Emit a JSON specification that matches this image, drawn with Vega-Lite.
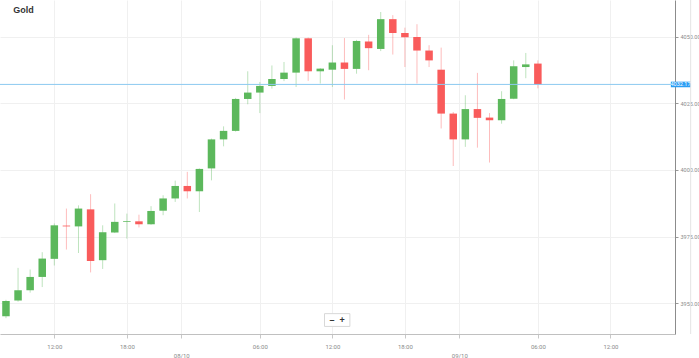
{
  "$schema": "https://vega.github.io/schema/vega-lite/v6.json",
  "autosize": "none",
  "width": 675,
  "height": 334,
  "padding": {"left": 0, "top": 0, "right": 24, "bottom": 24},
  "background": "white",
  "config": {
    "view": {"stroke": null},
    "font": "Roboto",
    "axisX": {"labelFontSize": 6, "labelColor": "#8a8a8a", "labelPadding": 5, "labelLineHeight": 9, "labelOverlap": false, "labelFlush": false, "tickSize": 4, "tickColor": "#c8c8c8", "domainColor": "#c0c0c0", "domainWidth": 1.2, "grid": true, "gridColor": "#f0f0f0", "gridWidth": 1},
    "axisY": {"labelFontSize": 5.5, "labelColor": "#8a8a8a", "labelPadding": 2, "tickSize": 3, "tickColor": "#999999", "domainColor": "#8c8c8c", "grid": true, "gridColor": "#f0f0f0", "gridWidth": 1}
  },
  "data": {"values": [
    {"i": 0, "o": 3945.0, "h": 3951.2, "l": 3944.3, "c": 3950.75},
    {"i": 1, "o": 3950.9, "h": 3963.2, "l": 3950.5, "c": 3954.8},
    {"i": 2, "o": 3954.8, "h": 3962.6, "l": 3953.9, "c": 3959.8},
    {"i": 3, "o": 3959.8, "h": 3969.1, "l": 3956.0, "c": 3966.7},
    {"i": 4, "o": 3966.6, "h": 3979.9, "l": 3964.1, "c": 3979.2},
    {"i": 5, "o": 3979.1, "h": 3985.5, "l": 3970.1, "c": 3978.8},
    {"i": 6, "o": 3978.8, "h": 3986.7, "l": 3968.8, "c": 3985.5},
    {"i": 7, "o": 3985.2, "h": 3990.9, "l": 3961.5, "c": 3965.8},
    {"i": 8, "o": 3966.1, "h": 3979.2, "l": 3962.8, "c": 3976.6},
    {"i": 9, "o": 3976.5, "h": 3987.4, "l": 3976.3, "c": 3980.5},
    {"i": 10, "o": 3980.5, "h": 3983.6, "l": 3974.2, "c": 3980.8},
    {"i": 11, "o": 3980.7, "h": 3983.2, "l": 3978.4, "c": 3979.6},
    {"i": 12, "o": 3979.6, "h": 3986.4, "l": 3979.4, "c": 3984.6},
    {"i": 13, "o": 3984.7, "h": 3990.5, "l": 3983.0, "c": 3989.3},
    {"i": 14, "o": 3989.3, "h": 3996.0, "l": 3988.0, "c": 3994.0},
    {"i": 15, "o": 3994.0, "h": 3999.3, "l": 3989.3, "c": 3992.0},
    {"i": 16, "o": 3992.0, "h": 4000.6, "l": 3984.2, "c": 4000.4},
    {"i": 17, "o": 4000.6, "h": 4011.8, "l": 3996.1, "c": 4011.5},
    {"i": 18, "o": 4011.5, "h": 4016.4, "l": 4008.9, "c": 4014.7},
    {"i": 19, "o": 4014.7, "h": 4027.1, "l": 4014.4, "c": 4026.7},
    {"i": 20, "o": 4026.7, "h": 4037.1, "l": 4024.7, "c": 4029.1},
    {"i": 21, "o": 4029.1, "h": 4033.1, "l": 4021.4, "c": 4031.6},
    {"i": 22, "o": 4031.6, "h": 4039.3, "l": 4030.6, "c": 4034.2},
    {"i": 23, "o": 4034.2, "h": 4040.6, "l": 4033.4, "c": 4036.6},
    {"i": 24, "o": 4036.6, "h": 4049.8, "l": 4031.2, "c": 4049.5},
    {"i": 25, "o": 4049.5, "h": 4049.8, "l": 4033.5, "c": 4037.1},
    {"i": 26, "o": 4037.1, "h": 4038.3, "l": 4032.5, "c": 4038.1},
    {"i": 27, "o": 4037.7, "h": 4046.9, "l": 4031.2, "c": 4040.4},
    {"i": 28, "o": 4040.4, "h": 4049.6, "l": 4026.5, "c": 4038.0},
    {"i": 29, "o": 4038.0, "h": 4048.9, "l": 4036.2, "c": 4048.5},
    {"i": 30, "o": 4048.3, "h": 4050.8, "l": 4037.5, "c": 4045.8},
    {"i": 31, "o": 4045.5, "h": 4059.4, "l": 4044.7, "c": 4056.7},
    {"i": 32, "o": 4056.7, "h": 4058.2, "l": 4043.4, "c": 4051.5},
    {"i": 33, "o": 4051.5, "h": 4053.5, "l": 4038.7, "c": 4049.9},
    {"i": 34, "o": 4050.0, "h": 4054.8, "l": 4032.5, "c": 4044.9},
    {"i": 35, "o": 4044.9, "h": 4046.9, "l": 4038.7, "c": 4041.2},
    {"i": 36, "o": 4037.7, "h": 4046.0, "l": 4015.6, "c": 4021.2},
    {"i": 37, "o": 4021.2, "h": 4021.8, "l": 4001.5, "c": 4011.5},
    {"i": 38, "o": 4011.5, "h": 4028.1, "l": 4008.7, "c": 4022.9},
    {"i": 39, "o": 4022.9, "h": 4036.5, "l": 4008.4, "c": 4019.6},
    {"i": 40, "o": 4019.7, "h": 4021.4, "l": 4002.8, "c": 4018.7},
    {"i": 41, "o": 4018.7, "h": 4029.6, "l": 4017.4, "c": 4026.7},
    {"i": 42, "o": 4026.8, "h": 4041.2, "l": 4026.6, "c": 4039.0},
    {"i": 43, "o": 4038.7, "h": 4044.0, "l": 4034.5, "c": 4039.7},
    {"i": 44, "o": 4040.0, "h": 4041.2, "l": 4030.7, "c": 4032.17}
  ]},
  "layer": [
    {
      "mark": {"type": "rule", "strokeWidth": 1, "opacity": 0.4, "clip": true},
      "encoding": {
        "x": {"field": "i", "type": "quantitative",
          "scale": {"domain": [-0.08, 54.93], "nice": false, "zero": false},
          "axis": {"title": null, "values": [4, 10, 14.5, 21, 27, 33, 37.5, 44, 50],
            "labelExpr": "datum.value == 4 || datum.value == 27 || datum.value == 50 ? '12:00' : (datum.value == 10 || datum.value == 33 ? '18:00' : (datum.value == 21 || datum.value == 44 ? '06:00' : (datum.value == 14.5 ? ['', '08/10'] : ['', '09/10'])))"}},
        "y": {"field": "l", "type": "quantitative",
          "scale": {"domain": [3938.35, 4063.9], "nice": false, "zero": false},
          "axis": {"title": null, "orient": "right", "values": [3950, 3975, 4000, 4025, 4050], "format": ".2f"}},
        "y2": {"field": "h"},
        "color": {"condition": {"test": "datum.c >= datum.o", "value": "#5cb85c"}, "value": "#f95b5b"}
      }
    },
    {
      "mark": {"type": "bar", "size": 7.5, "clip": true},
      "encoding": {
        "x": {"field": "i", "type": "quantitative",
          "axis": {"title": null, "values": [4, 10, 14.5, 21, 27, 33, 37.5, 44, 50],
            "labelExpr": "datum.value == 4 || datum.value == 27 || datum.value == 50 ? '12:00' : (datum.value == 10 || datum.value == 33 ? '18:00' : (datum.value == 21 || datum.value == 44 ? '06:00' : (datum.value == 14.5 ? ['', '08/10'] : ['', '09/10'])))"}},
        "y": {"field": "o", "type": "quantitative",
          "axis": {"title": null, "orient": "right", "values": [3950, 3975, 4000, 4025, 4050], "format": ".2f"}},
        "y2": {"field": "c"},
        "color": {"condition": {"test": "datum.c >= datum.o", "value": "#5cb85c"}, "value": "#f95b5b"}
      }
    },
    {
      "data": {"values": [{}]},
      "mark": {"type": "rule", "strokeWidth": 1, "color": "#8ccaf0"},
      "encoding": {
        "y": {"datum": 4032.17, "type": "quantitative",
          "axis": {"title": null, "orient": "right", "values": [3950, 3975, 4000, 4025, 4050], "format": ".2f"}}
      }
    },
    {
      "data": {"values": [{}]},
      "mark": {"type": "rule", "strokeWidth": 1, "color": "#e4e4e4", "clip": false},
      "encoding": {
        "x": {"datum": 56.64, "type": "quantitative",
          "axis": {"title": null, "values": [4, 10, 14.5, 21, 27, 33, 37.5, 44, 50],
            "labelExpr": "datum.value == 4 || datum.value == 27 || datum.value == 50 ? '12:00' : (datum.value == 10 || datum.value == 33 ? '18:00' : (datum.value == 21 || datum.value == 44 ? '06:00' : (datum.value == 14.5 ? ['', '08/10'] : ['', '09/10'])))"}}
      }
    },
    {
      "data": {"values": [{}]},
      "mark": {"type": "rect", "fill": "#2a9df4", "clip": false},
      "encoding": {
        "x": {"datum": 55.0, "type": "quantitative",
          "axis": {"title": null, "values": [4, 10, 14.5, 21, 27, 33, 37.5, 44, 50],
            "labelExpr": "datum.value == 4 || datum.value == 27 || datum.value == 50 ? '12:00' : (datum.value == 10 || datum.value == 33 ? '18:00' : (datum.value == 21 || datum.value == 44 ? '06:00' : (datum.value == 14.5 ? ['', '08/10'] : ['', '09/10'])))"}},
        "x2": {"datum": 56.6},
        "y": {"datum": 4031.1, "type": "quantitative",
          "axis": {"title": null, "orient": "right", "values": [3950, 3975, 4000, 4025, 4050], "format": ".2f"}},
        "y2": {"datum": 4033.2}
      }
    },
    {
      "data": {"values": [{}]},
      "mark": {"type": "text", "color": "white", "fontSize": 5.5, "align": "center", "baseline": "middle", "clip": false},
      "encoding": {
        "x": {"datum": 55.8, "type": "quantitative",
          "axis": {"title": null, "values": [4, 10, 14.5, 21, 27, 33, 37.5, 44, 50],
            "labelExpr": "datum.value == 4 || datum.value == 27 || datum.value == 50 ? '12:00' : (datum.value == 10 || datum.value == 33 ? '18:00' : (datum.value == 21 || datum.value == 44 ? '06:00' : (datum.value == 14.5 ? ['', '08/10'] : ['', '09/10'])))"}},
        "y": {"datum": 4032.17, "type": "quantitative",
          "axis": {"title": null, "orient": "right", "values": [3950, 3975, 4000, 4025, 4050], "format": ".2f"}},
        "text": {"value": "4032.17"}
      }
    },
    {
      "data": {"values": [{}]},
      "mark": {"type": "rect", "fill": "white", "stroke": "#d8d8d8", "strokeWidth": 1},
      "encoding": {
        "x": {"datum": 26.35, "type": "quantitative",
          "axis": {"title": null, "values": [4, 10, 14.5, 21, 27, 33, 37.5, 44, 50],
            "labelExpr": "datum.value == 4 || datum.value == 27 || datum.value == 50 ? '12:00' : (datum.value == 10 || datum.value == 33 ? '18:00' : (datum.value == 21 || datum.value == 44 ? '06:00' : (datum.value == 14.5 ? ['', '08/10'] : ['', '09/10'])))"}},
        "x2": {"datum": 28.45},
        "y": {"datum": 3941.2, "type": "quantitative",
          "axis": {"title": null, "orient": "right", "values": [3950, 3975, 4000, 4025, 4050], "format": ".2f"}},
        "y2": {"datum": 3946.0}
      }
    },
    {
      "data": {"values": [{}]},
      "mark": {"type": "text", "color": "#333333", "fontSize": 9, "fontWeight": "bold", "align": "center", "baseline": "middle", "font": "Liberation Sans"},
      "encoding": {
        "x": {"datum": 27.4, "type": "quantitative",
          "axis": {"title": null, "values": [4, 10, 14.5, 21, 27, 33, 37.5, 44, 50],
            "labelExpr": "datum.value == 4 || datum.value == 27 || datum.value == 50 ? '12:00' : (datum.value == 10 || datum.value == 33 ? '18:00' : (datum.value == 21 || datum.value == 44 ? '06:00' : (datum.value == 14.5 ? ['', '08/10'] : ['', '09/10'])))"}},
        "y": {"datum": 3943.6, "type": "quantitative",
          "axis": {"title": null, "orient": "right", "values": [3950, 3975, 4000, 4025, 4050], "format": ".2f"}},
        "text": {"value": "–\u00a0\u00a0+"}
      }
    },
    {
      "data": {"values": [{}]},
      "mark": {"type": "text", "color": "#333333", "fontSize": 9, "fontWeight": "bold", "align": "left", "baseline": "alphabetic", "font": "Liberation Sans"},
      "encoding": {
        "x": {"datum": 0.6, "type": "quantitative",
          "axis": {"title": null, "values": [4, 10, 14.5, 21, 27, 33, 37.5, 44, 50],
            "labelExpr": "datum.value == 4 || datum.value == 27 || datum.value == 50 ? '12:00' : (datum.value == 10 || datum.value == 33 ? '18:00' : (datum.value == 21 || datum.value == 44 ? '06:00' : (datum.value == 14.5 ? ['', '08/10'] : ['', '09/10'])))"}},
        "y": {"datum": 4058.9, "type": "quantitative",
          "axis": {"title": null, "orient": "right", "values": [3950, 3975, 4000, 4025, 4050], "format": ".2f"}},
        "text": {"value": "Gold"}
      }
    }
  ]
}
